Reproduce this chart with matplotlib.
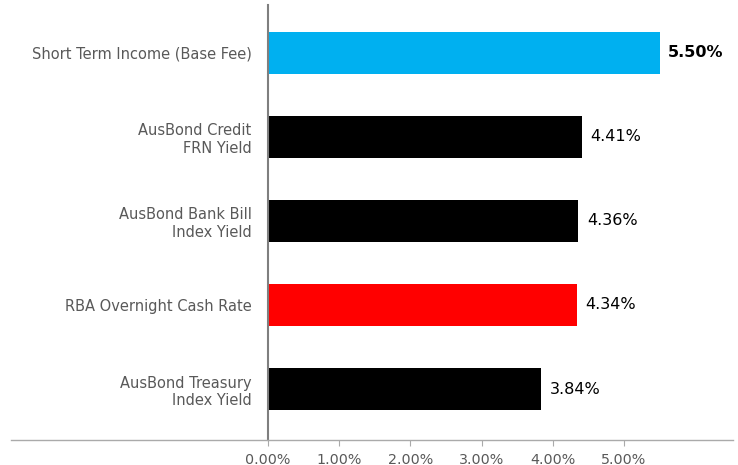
import matplotlib
matplotlib.use("Agg")
import matplotlib.pyplot as plt
from matplotlib.ticker import FuncFormatter

categories = ["Short Term Income (Base Fee)", "AusBond Credit\nFRN Yield",
              "AusBond Bank Bill\nIndex Yield", "RBA Overnight Cash Rate",
              "AusBond Treasury\nIndex Yield"]
values = [5.50, 4.41, 4.36, 4.34, 3.84]
colors = ["#00B0F0", "#000000", "#000000", "#FF0000", "#000000"]
bold = [True, False, False, False, False]

plt.rcParams['font.family'] = ['DejaVu Sans']

fig = plt.figure(figsize=(7.38, 4.65), dpi=100)
ax = fig.add_axes([11 / 738, 25 / 465, 722 / 738, 435 / 465])

ypos = list(range(len(categories)))
ax.barh(ypos, values, height=0.5, color=colors)

for y, v, b in zip(ypos, values, bold):
    ax.text(v + 0.12, y, f"{v:.2f}%", va="center", ha="left", fontsize=11.5,
            fontweight="bold" if b else "normal", color="black")

ax.set_xlim(-3.61, 6.53)
ax.set_ylim(4.607, -0.571)
ax.set_yticks(ypos)
ax.set_yticklabels(categories)
ax.set_xticks([0, 1, 2, 3, 4, 5])
ax.xaxis.set_major_formatter(FuncFormatter(lambda x, p: f"{x:.2f}%"))
ax.tick_params(axis="x", colors="#aaaaaa", labelcolor="#595959", labelsize=10.3,
               length=4, pad=5)
ax.tick_params(axis="y", length=0, pad=12, labelcolor="#595959", labelsize=10.5)

for lab in ax.get_yticklabels():
    lab.set_horizontalalignment("right")
    lab.set_multialignment("right")
    lab.set_linespacing(1.25)

ax.spines["left"].set_position(("data", 0))
ax.spines["left"].set_color("#7f7f7f")
ax.spines["left"].set_linewidth(1.5)
ax.spines["bottom"].set_color("#aaaaaa")
ax.spines["bottom"].set_linewidth(1)
ax.spines["top"].set_visible(False)
ax.spines["right"].set_visible(False)

fig.savefig("out.png", dpi=100)
